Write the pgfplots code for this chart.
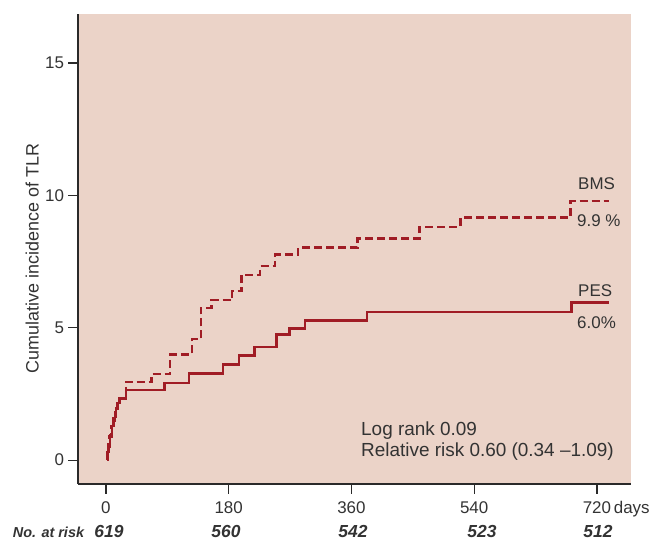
\documentclass[border=0pt]{standalone}
\usepackage{fontspec}
\setmainfont{Liberation Sans}
\usepackage{pgfplots}
\pgfplotsset{compat=1.18}
\definecolor{bg}{HTML}{EBD3C8}
\definecolor{kmred}{HTML}{A01C25}
\definecolor{txt}{HTML}{333333}
\definecolor{axc}{HTML}{2A2A2A}

\begin{document}
\begin{tikzpicture}[x=1bp,y=1bp]
\path[use as bounding box] (0,0) rectangle (656,542);
\begin{axis}[
  at={(78bp,58bp)}, anchor=south west,
  scale only axis, width=553bp, height=470bp,
  xmin=-41, xmax=770, ymin=-0.9, ymax=16.85,
  axis x line=bottom, axis y line=left,
  axis line style={-, line width=2.6bp, color=axc},
  axis background/.style={fill=bg},
  xtick={0,180,360,540,720},
  xticklabels={0,180,360,540,{720\rlap{\,days}}},
  ytick={0,5,10,15},
  yticklabels={0,5,10,15},
  tick align=outside,
  major tick length=10bp,
  tick style={line width=1.2bp, color=axc},
  ticklabel style={font=\fontsize{17}{20}\selectfont, text=txt},
  xticklabel style={yshift=-4bp},
  yticklabel style={xshift=-0.5bp},
  ylabel={Cumulative incidence of TLR},
  ylabel style={at={(axis description cs:-0.083,0.48)}, anchor=center, font=\fontsize{18}{21}\selectfont, text=txt},
  clip=false,
]
% PES (solid)
\addplot[const plot, kmred, line width=2.4bp] coordinates {
(1,0) (2,0.3) (4,0.6) (6,0.94) (9,1.3) (11,1.5) (13,1.65) (15,1.95) (17,2.15) (20,2.33)
(29,2.64) (86,2.92) (122,3.27) (172,3.61) (195,3.96) (218,4.28) (250,4.74) (269,4.97)
(292,5.28) (383,5.6) (683,5.95) (737,5.95)
};
% BMS (dashed)
\addplot[const plot, kmred, line width=2.4bp, dash pattern=on 8bp off 4bp] coordinates {
(1,0) (3,0.5) (5,0.9) (8,1.3) (10,1.6) (13,1.8) (16,2.2) (19,2.35) (29,2.95)
(67,3.25) (94,3.99) (126,4.57) (139,5.75) (155,6.04) (185,6.38) (199,7.0) (226,7.33)
(248,7.77) (282,8.03) (369,8.37) (460,8.81) (520,9.16) (681,9.78) (737,9.78)
};
\end{axis}
% annotations
\begin{scope}[every node/.style={inner sep=0pt, text=txt}]
\node[anchor=base west, font=\fontsize{17}{20}\selectfont] at (578,352) {BMS};
\node[anchor=base west, font=\fontsize{17}{20}\selectfont] at (577,315) {9.9 \%};
\node[anchor=base west, font=\fontsize{17}{20}\selectfont] at (578,245) {PES};
\node[anchor=base west, font=\fontsize{17}{20}\selectfont] at (577,213) {6.0\%};
\node[anchor=base west, font=\fontsize{19}{22}\selectfont] at (361,106) {Log rank 0.09};
\node[anchor=base west, font=\fontsize{19}{22}\selectfont] at (361,85) {Relative risk 0.60 (0.34 \textendash1.09)};
% risk table
\node[anchor=base west, font=\fontsize{14.5}{17}\selectfont\bfseries\itshape] at (12.7,4) {No. at risk};
\node[anchor=base, font=\fontsize{17.5}{20}\selectfont\bfseries\itshape] at (109,4) {619};
\node[anchor=base, font=\fontsize{17.5}{20}\selectfont\bfseries\itshape] at (226,4) {560};
\node[anchor=base, font=\fontsize{17.5}{20}\selectfont\bfseries\itshape] at (353,4) {542};
\node[anchor=base, font=\fontsize{17.5}{20}\selectfont\bfseries\itshape] at (482,4) {523};
\node[anchor=base, font=\fontsize{17.5}{20}\selectfont\bfseries\itshape] at (598,4) {512};
\end{scope}
\end{tikzpicture}
\end{document}
